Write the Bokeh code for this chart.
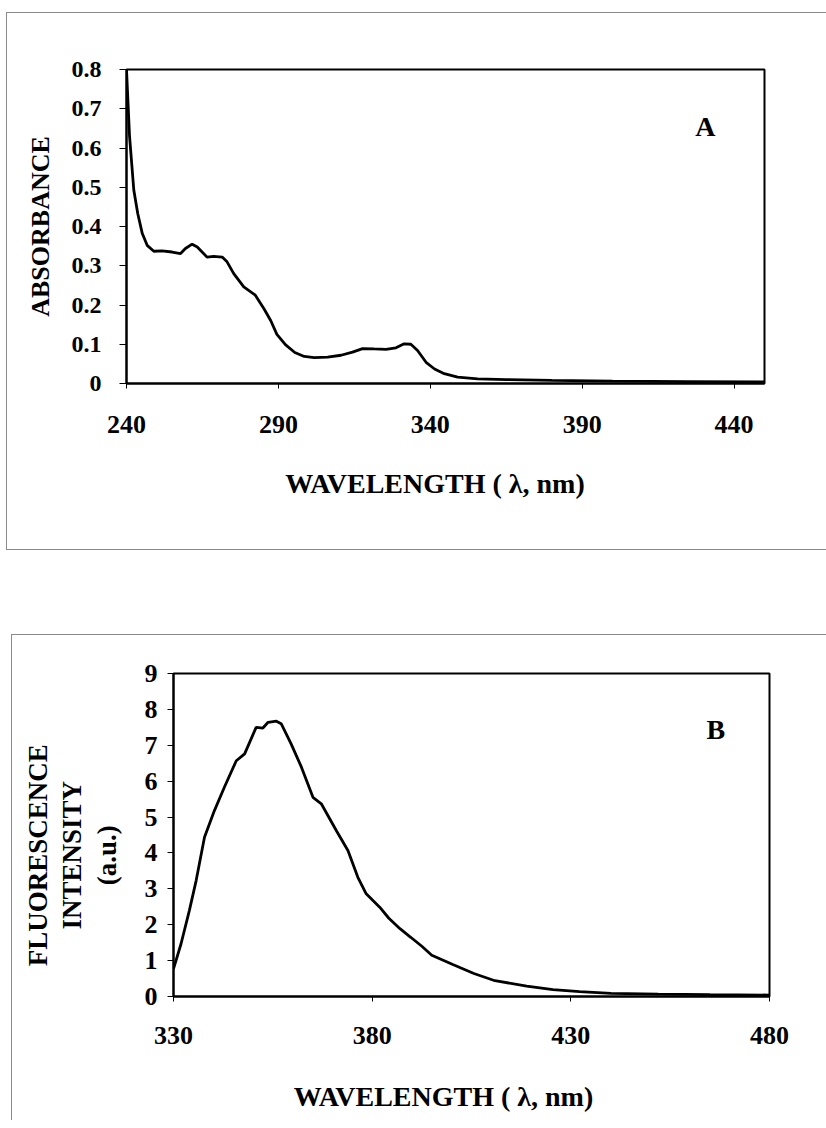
from bokeh.plotting import figure
from bokeh.models import Range1d, FixedTicker, CustomJSTickFormatter, Label, Spacer
from bokeh.layouts import column, row
from bokeh.embed import file_html
from bokeh.resources import INLINE

# ---- Panel A: absorbance spectrum ----
abs_wavelength = [240, 241, 242.4, 243.7, 245.2, 246.8, 249, 251.7, 255, 257.8, 259.4, 261.6,
                  263.3, 266.5, 268.7, 271.5, 273.1, 275.3, 278.6, 282.4, 285.2, 287.5, 289.5,
                  292.3, 295.4, 298.5, 301.8, 306.2, 310.6, 314.4, 317.7, 321.5, 325.4, 328.7,
                  331.4, 333.6, 335.8, 338.6, 341.4, 344.6, 349, 355.6, 365, 380, 400, 425, 450]
abs_values = [0.80, 0.63, 0.493, 0.433, 0.382, 0.352, 0.337, 0.338, 0.335, 0.331, 0.344, 0.355,
              0.348, 0.322, 0.324, 0.322, 0.310, 0.280, 0.246, 0.225, 0.191, 0.160, 0.125,
              0.099, 0.079, 0.069, 0.066, 0.067, 0.072, 0.080, 0.089, 0.088, 0.087, 0.091,
              0.101, 0.100, 0.084, 0.054, 0.037, 0.025, 0.016, 0.012, 0.010, 0.008, 0.006, 0.005, 0.004]
abs_xticks = [240, 290, 340, 390, 440]
abs_yticks = [0, 0.1, 0.2, 0.3, 0.4, 0.5, 0.6, 0.7, 0.8]

# ---- Panel B: fluorescence spectrum ----
fl_wavelength = [330, 331.9, 334, 335.7, 337.8, 340.3, 342.8, 345.8, 347.9, 350.8, 352.5, 353.8,
                 355.9, 357.1, 359.6, 362.2, 365.1, 367.2, 371, 373.9, 376.4, 378.5, 381.9, 384.2,
                 387, 389.7, 392.5, 395, 400.3, 405.6, 410.9, 418.9, 425.5, 432.2, 440.1, 452, 465, 480]
fl_values = [0.77, 1.47, 2.4, 3.23, 4.44, 5.18, 5.83, 6.57, 6.76, 7.50, 7.48, 7.64,
             7.67, 7.6, 7.04, 6.39, 5.55, 5.37, 4.62, 4.07, 3.32, 2.86, 2.49, 2.18,
             1.89, 1.65, 1.40, 1.15, 0.89, 0.64, 0.44, 0.29, 0.19, 0.135, 0.085, 0.065, 0.05, 0.04]
fl_xticks = [330, 380, 430, 480]
fl_yticks = [0, 1, 2, 3, 4, 5, 6, 7, 8, 9]

FONT = "Liberation Serif"
NB = "\u00a0"


def style_axes(p, xfs, yfs, tfs):
    for ax in (p.xaxis[0], p.yaxis[0]):
        ax.axis_line_color = "black"
        ax.axis_line_width = 2
        ax.major_tick_line_color = "black"
        ax.major_tick_line_width = 1
        ax.major_tick_in = 0
        ax.minor_tick_line_color = None
        ax.major_label_text_font = FONT
        ax.major_label_text_font_style = "bold"
        ax.major_label_text_color = "black"
        ax.axis_label_text_font = FONT
        ax.axis_label_text_font_style = "bold"
        ax.axis_label_text_color = "black"
        ax.axis_label_text_font_size = tfs
    p.xaxis[0].major_label_text_font_size = xfs
    p.yaxis[0].major_label_text_font_size = yfs
    p.xgrid.visible = False
    p.ygrid.visible = False
    p.outline_line_color = "black"
    p.outline_line_width = 2
    p.border_fill_alpha = 0
    p.background_fill_color = "white"


# ---------- Figure A ----------
p1 = figure(width=820, height=538, output_backend="svg", toolbar_location=None,
            x_range=Range1d(240, 450), y_range=Range1d(0, 0.8),
            min_border_left=120, min_border_right=62, min_border_top=57, min_border_bottom=167)
p1.line(abs_wavelength, abs_values, line_color="black", line_width=2.8)
style_axes(p1, "26px", "24px", "28px")
p1.xaxis[0].ticker = FixedTicker(ticks=abs_xticks)
p1.yaxis[0].ticker = FixedTicker(ticks=abs_yticks)
p1.yaxis[0].formatter = CustomJSTickFormatter(code="return tick < 1e-9 ? '0' : tick.toFixed(1);")
p1.xaxis[0].major_tick_out = 5
p1.xaxis[0].major_label_standoff = 27
p1.xaxis[0].axis_label = "WAVELENGTH ( \u03bb, nm)" + NB * 3
p1.xaxis[0].axis_label_standoff = 32
p1.yaxis[0].major_tick_out = 7
p1.yaxis[0].major_label_standoff = 18
p1.yaxis[0].axis_label = "ABSORBANCE"
p1.yaxis[0].axis_label_text_font_size = "26px"
p1.yaxis[0].axis_label_standoff = 14
p1.add_layout(Label(x=430.5, y=0.654, text="A", text_font=FONT, text_font_style="bold",
                    text_font_size="28px", text_align="center", text_baseline="middle",
                    text_color="black"))
p1.styles = {"box-shadow": "inset 1px 0 0 #8a8a8a, inset 0 1px 0 #8a8a8a, inset 0 -1px 0 #8a8a8a"}

# ---------- Figure B ----------
p2 = figure(width=815, height=486, output_backend="svg", toolbar_location=None,
            x_range=Range1d(330, 480), y_range=Range1d(0, 9),
            min_border_left=162, min_border_right=57, min_border_top=39, min_border_bottom=124)
p2.line(fl_wavelength, fl_values, line_color="black", line_width=2.8)
style_axes(p2, "26px", "26px", "28px")
p2.xaxis[0].ticker = FixedTicker(ticks=fl_xticks)
p2.yaxis[0].ticker = FixedTicker(ticks=fl_yticks)
p2.xaxis[0].major_tick_out = 5
p2.xaxis[0].major_label_standoff = 25
p2.xaxis[0].axis_label = "WAVELENGTH ( \u03bb, nm)" + NB * 8
p2.xaxis[0].axis_label_standoff = 34
p2.yaxis[0].major_tick_out = 6
p2.yaxis[0].major_label_standoff = 10
PAD = NB * 6
p2.yaxis[0].axis_label = "FLUORESCENCE" + PAD + "\nINTENSITY" + PAD + "\n(a.u.)" + PAD
p2.yaxis[0].axis_label_text_font_size = "27px"
p2.yaxis[0].axis_label_text_line_height = 1.15
p2.yaxis[0].axis_label_standoff = 20
p2.add_layout(Label(x=466.5, y=7.44, text="B", text_font=FONT, text_font_style="bold",
                    text_font_size="28px", text_align="center", text_baseline="middle",
                    text_color="black"))
p2.styles = {"box-shadow": "inset 1px 0 0 #8a8a8a, inset 0 1px 0 #8a8a8a"}

layout = column(Spacer(height=12), row(Spacer(width=6), p1), Spacer(height=84),
                row(Spacer(width=11), p2))

open("out.html", "w").write(file_html(layout, INLINE))
